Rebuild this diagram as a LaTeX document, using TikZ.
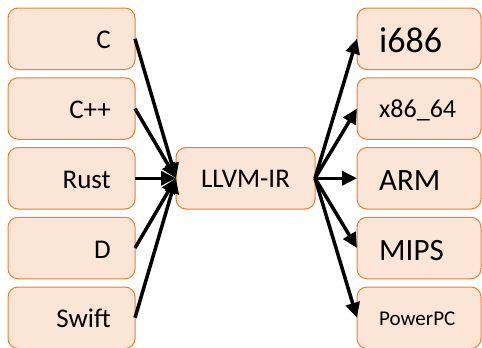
\documentclass[tikz,border=0pt]{standalone}
\usepackage{fontspec}
\setmainfont{Carlito}
\usetikzlibrary{arrows.meta}
\definecolor{boxline}{HTML}{ED7D31}
\definecolor{boxfill}{HTML}{FBE5D6}
\tikzset{
  box/.style={draw=boxline, fill=boxfill, line width=1pt, rounded corners=10pt,
    minimum height=61.5pt, inner sep=0pt, outer sep=0pt},
  srcbox/.style={box, minimum width=127pt},
  irbox/.style={box, minimum width=139pt},
  tgtbox/.style={box, minimum width=124pt},
  lbl/.style={inner sep=0pt, font=\fontsize{#1}{#1}\selectfont},
  srclbl/.style={lbl=27, anchor=base east},
  tgtlbl/.style={lbl=#1, anchor=base west},
  flow/.style={line width=3.5pt, -{Triangle[length=15pt,width=14pt]}}
}
\begin{document}
\begin{tikzpicture}[x=1pt,y=-1pt]
\useasboundingbox (0,0) rectangle (482,348);

% source languages
\node[srcbox] (c)     at (71.5, 38.75)  {};
\node[srcbox] (cpp)   at (71.5, 108.5)  {};
\node[srcbox] (rust)  at (71.5, 178.25) {};
\node[srcbox] (d)     at (71.5, 248)    {};
\node[srcbox] (swift) at (71.5, 317.75) {};
\node[srclbl] (tc)     at (111, 48.75)  {C};
\node[srclbl] (tcpp)   at (111, 118.5)  {C++};
\node[srclbl] (trust)  at (111, 188.25) {Rust};
\node[srclbl] (td)     at (111, 258)    {D};
\node[srclbl] (tswift) at (111, 327.75) {Swift};

% intermediate representation
\node[irbox] (ir) at (245.5, 178.25) {};
\node[lbl=27, anchor=base] (tir) at (245.5, 187.75) {LLVM-IR};

% target architectures
\node[tgtbox] (i686)  at (419, 38.75)  {};
\node[tgtbox] (x64)   at (419, 108.5)  {};
\node[tgtbox] (arm)   at (419, 178.25) {};
\node[tgtbox] (mips)  at (419, 248)    {};
\node[tgtbox] (ppc)   at (419, 317.75) {};
\node[tgtlbl=36] (ti686) at (379, 52.75)  {i686};
\node[tgtlbl=26] (tx64)  at (379, 117.5)  {x86\_64};
\node[tgtlbl=31] (tarm)  at (379, 190.25) {ARM};
\node[tgtlbl=31] (tmips) at (379, 260)    {MIPS};
\node[tgtlbl=21] (tppc)  at (379, 325.75) {PowerPC};

% front ends into the IR
\foreach \s in {c,cpp,rust,d,swift}
  \draw[flow] (\s.east) -- (ir.west);
% IR out to the back ends
\foreach \t in {i686,x64,arm,mips,ppc}
  \draw[flow] (ir.east) -- (\t.west);
\end{tikzpicture}
\end{document}
